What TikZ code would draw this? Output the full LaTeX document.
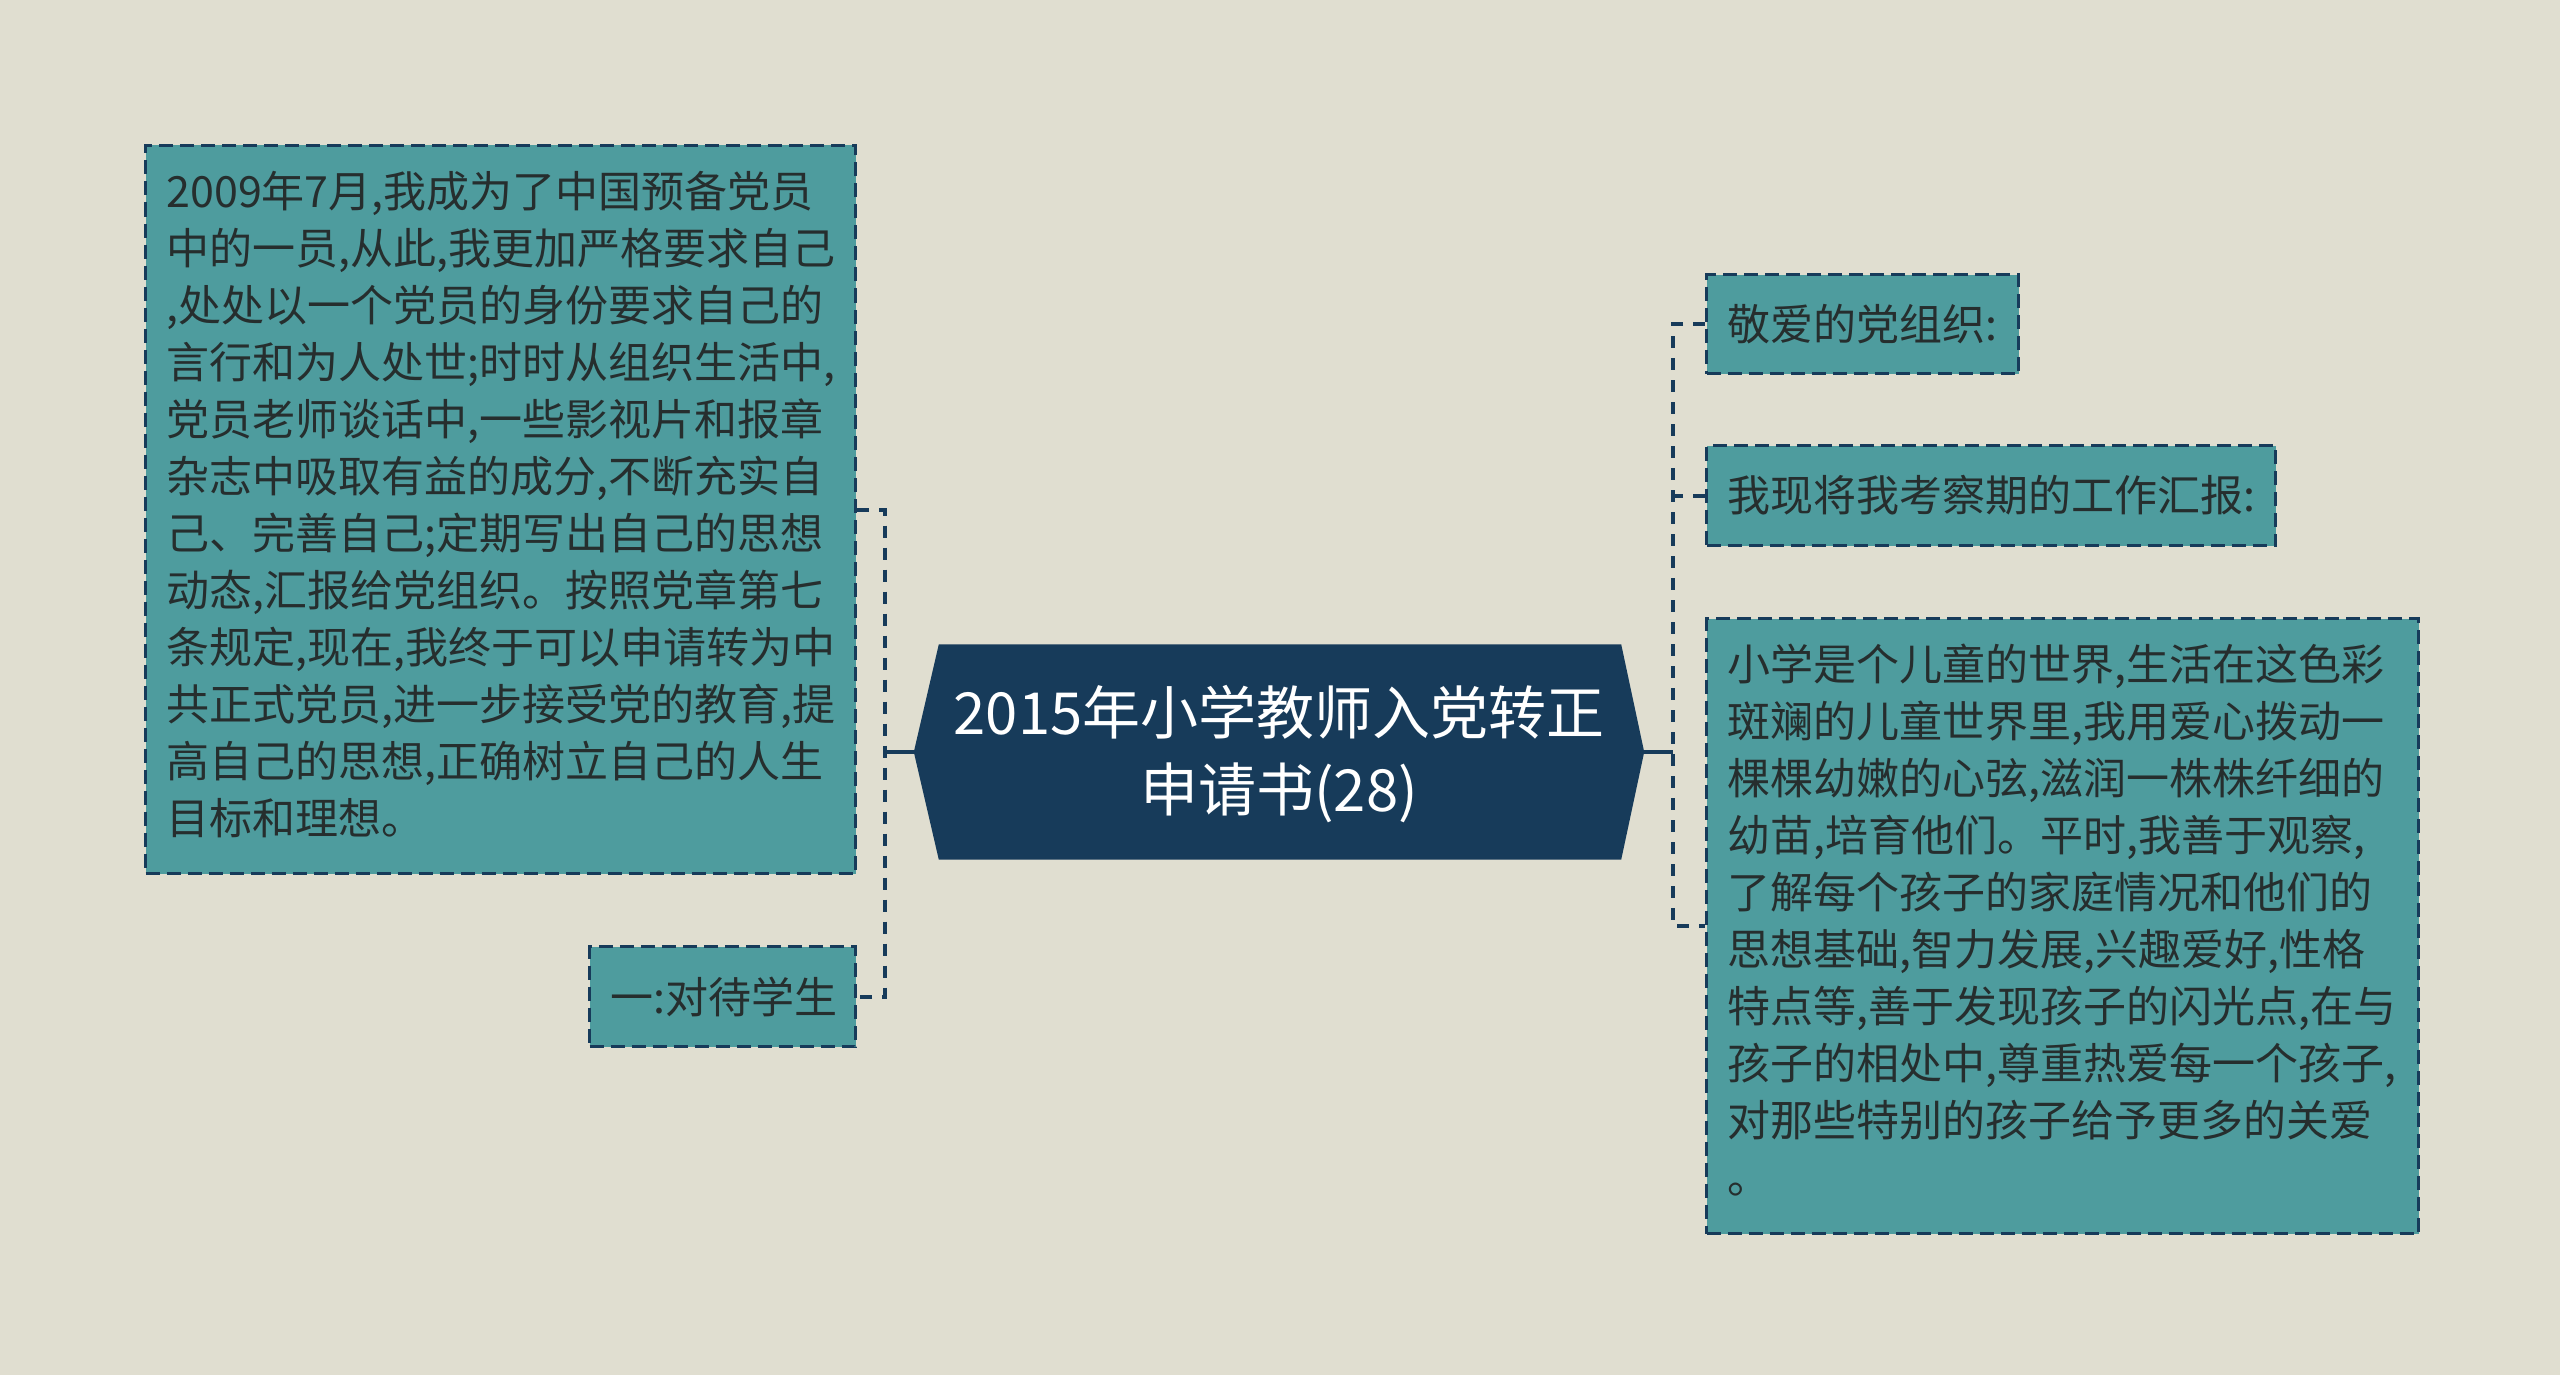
\documentclass[tikz,border=0pt]{standalone}
\usepackage{fontspec}
\setmainfont{Noto Sans CJK SC}
\usetikzlibrary{backgrounds}
\definecolor{bgbeige}{HTML}{E0DED0}
\definecolor{leafteal}{HTML}{4E9C9E}
\definecolor{rootnavy}{HTML}{173B5A}
\definecolor{inkgrey}{HTML}{262E2E}
\tikzset{
  leafbox/.style={draw=rootnavy, line width=3pt, dash pattern=on 14pt off 7pt,
    fill=leafteal, text=inkgrey, font=\fontsize{43}{57}\selectfont,
    align=left, inner xsep=21pt, inner ysep=0pt, anchor=north west},
  rootnode/.style={minimum width=730pt, minimum height=215pt, text=white,
    align=center, font=\fontsize{58}{77}\selectfont, inner sep=0pt},
  dconn/.style={draw=rootnavy, line width=4pt, dash pattern=on 12pt off 10pt},
  sconn/.style={draw=rootnavy, line width=4pt}
}
\begin{document}
\begin{tikzpicture}[x=1pt,y=-1pt]
\useasboundingbox (0,0) rectangle (2560,1375);
% root
\node[rootnode] (root) at (1279,752) {\rule{0pt}{66pt}2015年小学教师入党转正\\申请书(28)\strut};
% left
\node[leafbox, minimum width=710pt, minimum height=728pt, text width=668pt] (L1) at (144,144)
{\strut 2009年7月,我成为了中国预备党员\\
中的一员,从此,我更加严格要求自己\\
,处处以一个党员的身份要求自己的\\
言行和为人处世;时时从组织生活中,\\
党员老师谈话中,一些影视片和报章\\
杂志中吸取有益的成分,不断充实自\\
己、完善自己;定期写出自己的思想\\
动态,汇报给党组织。按照党章第七\\
条规定,现在,我终于可以申请转为中\\
共正式党员,进一步接受党的教育,提\\
高自己的思想,正确树立自己的人生\\
目标和理想。\strut};
\node[leafbox, minimum width=266pt, minimum height=100pt, text width=224pt] (L2) at (588,945) {一:对待学生};
% right
\node[leafbox, minimum width=312pt, minimum height=99pt, text width=270pt] (R1) at (1705,273) {敬爱的党组织:};
\node[leafbox, minimum width=569pt, minimum height=100pt, text width=527pt] (R2) at (1705,444) {我现将我考察期的工作汇报:};
\node[leafbox, minimum width=712pt, minimum height=615pt, text width=670pt] (R3) at (1705,617)
{\strut 小学是个儿童的世界,生活在这色彩\\
斑斓的儿童世界里,我用爱心拨动一\\
棵棵幼嫩的心弦,滋润一株株纤细的\\
幼苗,培育他们。平时,我善于观察,\\
了解每个孩子的家庭情况和他们的\\
思想基础,智力发展,兴趣爱好,性格\\
特点等,善于发现孩子的闪光点,在与\\
孩子的相处中,尊重热爱每一个孩子,\\
对那些特别的孩子给予更多的关爱\\
。\strut};
% connectors
\coordinate (jl) at (885,752);
\coordinate (jr) at (1673,752);
\draw[sconn] (root.west) -- (jl);
\draw[sconn] (root.east) -- (jr);
\draw[dconn] (L1.east) -| (jl) |- (L2.east);
\draw[dconn] (R1.west) -| (jr) |- (R3.west);
\draw[dconn] (R2.west) -- (jr |- R2.west);
\begin{pgfonlayer}{background}
\fill[bgbeige] (0,0) rectangle (2560,1375);
\fill[rootnavy] ([xshift=25pt]root.north west) -- ([xshift=-23pt]root.north east) -- (root.east)
  -- ([xshift=-23pt]root.south east) -- ([xshift=25pt]root.south west) -- (root.west) -- cycle;
\end{pgfonlayer}
\end{tikzpicture}
\end{document}
